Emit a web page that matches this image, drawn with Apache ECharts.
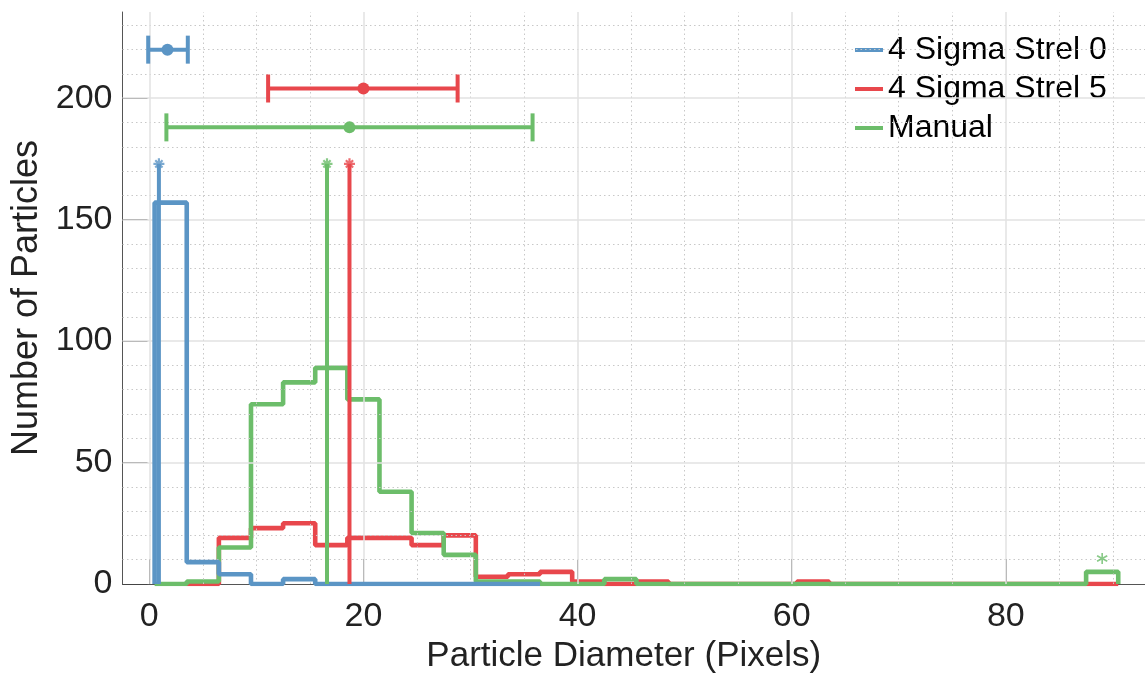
<!DOCTYPE html>
<html><head><meta charset="utf-8">
<script src="https://cdn.jsdelivr.net/npm/echarts@6/dist/echarts.min.js"></script>
<style>html,body{margin:0;padding:0;background:#fff}#c{width:1145px;height:680px}</style>
</head><body><div id="c"></div>
<script>
// ---- data ----
const seriesNames = ['4 Sigma Strel 0', '4 Sigma Strel 5', 'Manual'];
const colors = ['#5b95c5', '#e8474c', '#6cbd6a'];

const blueEdges = [0.5, 3.5, 6.5, 9.5, 12.5, 15.5, 18.5, 21.5, 24.5, 27.5, 30.5, 33.5, 36.5];
const blueCounts = [157, 9, 4, 0, 2, 0, 0, 0, 0, 0, 0, 0];

const redEdges = [3.5, 6.5, 9.5, 12.5, 15.5, 18.5, 21.5, 24.5, 27.5, 30.5, 33.5, 36.5, 39.5, 42.5, 45.5,
  48.5, 51.5, 54.5, 57.5, 60.5, 63.5, 66.5, 69.5, 72.5, 75.5, 78.5, 81.5, 84.5, 87.5, 90.5];
const redCounts = [0, 19, 23, 25, 16, 19, 19, 16, 20, 3, 4, 5, 1, 0, 1, 0, 0, 0, 0, 1,
  0, 0, 0, 0, 0, 0, 0, 0, 0];

const greenEdges = [0.5, 3.5, 6.5, 9.5, 12.5, 15.5, 18.5, 21.5, 24.5, 27.5, 30.5, 33.5, 36.5, 39.5, 42.5, 45.5,
  48.5, 51.5, 54.5, 57.5, 60.5, 63.5, 66.5, 69.5, 72.5, 75.5, 78.5, 81.5, 84.5, 87.5, 90.5];
const greenCounts = [0, 1, 15, 74, 83, 89, 76, 38, 21, 12, 1, 1, 0, 0, 2,
  0, 0, 0, 0, 0, 0, 0, 0, 0, 0, 0, 0, 0, 0, 5];

// median lines (x position, top)
const medianX = [0.9, 18.7, 16.6];
const medianTop = [173, 173, 173];

// error bars at top: low, mean, high, y level
const errLow = [-0.1, 11.1, 1.6];
const errMean = [1.7, 20.0, 18.7];
const errHigh = [3.6, 28.8, 35.8];
const errY = [220, 204, 188];

// outlier marker
const outlierPoint = [89, 10.5];

// ticks & grid
const xTicks = [0, 20, 40, 60, 80];
const yTicks = [0, 50, 100, 150, 200];
const xMinor = [5, 10, 15, 25, 30, 35, 45, 50, 55, 65, 70, 75, 85, 90];
const yMinor = [10, 20, 30, 40, 60, 70, 80, 90, 110, 120, 130, 140, 160, 170, 180, 190, 210, 220, 230];
const xMajorGrid = [0, 20, 40, 60, 80];
const yMajorGrid = [50, 100, 150, 200];

const FONT = '"Liberation Sans", Arial, Helvetica, sans-serif';
const TXT = '#222';

function stairs(edges, counts) {
  const pts = [[edges[0], 0]];
  for (let i = 0; i < counts.length; i++) pts.push([edges[i], counts[i]]);
  pts.push([edges[edges.length - 1], counts[counts.length - 1]]);
  pts.push([edges[edges.length - 1], 0]);
  return pts;
}

const asterisk4 = 'path://M4,0L6,0L6,10L4,10Z M0,4L10,4L10,6L0,6Z M1,2.4L2.4,1L9,7.6L7.6,9Z M7.6,1L9,2.4L2.4,9L1,7.6Z';
const asterisk3 = 'path://M4.3,0L5.7,0L5.7,10L4.3,10Z M0.32,6.9L8.98,1.9L9.68,3.1L1.02,8.1Z M1.02,1.9L9.68,6.9L8.98,8.1L0.32,3.1Z';

const hist = [[blueEdges, blueCounts], [redEdges, redCounts], [greenEdges, greenCounts]];

const series = [];

// grid lines via markLine
series.push({
  type: 'line', name: '_grid', data: [], z: 1, silent: true,
  markLine: {
    silent: true, symbol: ['none', 'none'], label: { show: false }, animation: false,
    data: [
      ...xMinor.map(v => ({ xAxis: v, lineStyle: { color: '#c8c8c8', type: [1.5, 3], width: 1 } })),
      ...yMinor.map(v => ({ yAxis: v, lineStyle: { color: '#c8c8c8', type: [1.5, 3], width: 1 } })),
      ...xMajorGrid.map(v => ({ xAxis: v, lineStyle: { color: '#e2e2e2', type: 'solid', width: 1.5 } })),
      ...yMajorGrid.map(v => ({ yAxis: v, lineStyle: { color: '#e2e2e2', type: 'solid', width: 1.5 } }))
    ]
  }
});

hist.forEach((h, i) => {
  series.push({
    type: 'line', name: seriesNames[i], step: 'end', data: stairs(h[0], h[1]),
    showSymbol: false, symbol: 'none', z: 3 + (i === 0 ? 2 : i === 1 ? 0 : 1),
    lineStyle: { color: colors[i], width: 4.6 }, itemStyle: { color: colors[i] },
    animation: false
  });
});

// medians
medianX.forEach((x, i) => {
  series.push({
    type: 'line', name: '_med' + i, data: [[x, 0], [x, medianTop[i]]], symbol: 'none', z: 6,
    lineStyle: { color: colors[i], width: 4 }, animation: false
  });
});
series.push({
  type: 'scatter', name: '_medstar', z: 7, symbol: asterisk4, symbolSize: 11,
  data: medianX.map((x, i) => ({ value: [x, medianTop[i]], itemStyle: { color: colors[i] } })),
  animation: false
});

// error bars
series.push({
  type: 'custom', name: '_err', z: 8, animation: false,
  data: errLow.map((l, i) => [l, errMean[i], errHigh[i], errY[i]]),
  encode: { x: [0, 1, 2], y: 3 },
  renderItem: function (params, api) {
    const y = api.value(3);
    const lo = api.coord([api.value(0), y]);
    const hi = api.coord([api.value(2), y]);
    const m = api.coord([api.value(1), y]);
    const c = colors[params.dataIndex];
    const st = { stroke: c, lineWidth: 4, fill: null };
    return {
      type: 'group', children: [
        { type: 'line', shape: { x1: lo[0], y1: lo[1], x2: hi[0], y2: hi[1] }, style: st },
        { type: 'line', shape: { x1: lo[0], y1: lo[1] - 14, x2: lo[0], y2: lo[1] + 14 }, style: st },
        { type: 'line', shape: { x1: hi[0], y1: hi[1] - 14, x2: hi[0], y2: hi[1] + 14 }, style: st },
        { type: 'circle', shape: { cx: m[0], cy: m[1], r: 6 }, style: { fill: c } }
      ]
    };
  }
});

// outlier star
series.push({
  type: 'scatter', name: '_out', z: 7, symbol: asterisk3, symbolSize: 11,
  data: [outlierPoint], itemStyle: { color: colors[2] }, animation: false
});

const chart = echarts.init(document.getElementById('c'));
chart.setOption({
  animation: false,
  backgroundColor: '#fff',
  textStyle: { fontFamily: FONT },
  grid: { left: 122.5, right: 0, top: 12, bottom: 96, containLabel: false },
  legend: {
    data: seriesNames, orient: 'vertical', left: 850, top: 29, itemGap: 7,
    icon: 'rect', itemWidth: 28, itemHeight: 4,
    textStyle: { fontSize: 32, color: '#000', fontFamily: FONT }
  },
  xAxis: {
    type: 'value', min: -2.5, max: 93,
    axisLine: { show: true, onZero: false, lineStyle: { color: '#555', width: 1 } },
    axisTick: { show: true, inside: true, length: 25, customValues: xTicks, lineStyle: { color: '#444', width: 1 } },
    axisLabel: { customValues: xTicks, fontSize: 34, color: TXT, margin: 16, fontFamily: FONT },
    splitLine: { show: false },
    name: 'Particle Diameter (Pixels)', nameLocation: 'middle', nameGap: 55,
    nameTextStyle: { fontSize: 35, color: TXT, fontFamily: FONT, padding: [0, 20, 0, 0] }
  },
  yAxis: {
    type: 'value', min: 0, max: 235.5,
    axisLine: { show: true, onZero: false, lineStyle: { color: '#555', width: 1 } },
    axisTick: { show: true, inside: true, length: 25, customValues: yTicks, lineStyle: { color: '#444', width: 1 } },
    axisLabel: { customValues: yTicks, fontSize: 34, color: TXT, margin: 10, fontFamily: FONT },
    splitLine: { show: false },
    name: 'Number of Particles', nameLocation: 'middle', nameGap: 77,
    nameTextStyle: { fontSize: 36, color: TXT, fontFamily: FONT }
  },
  series: series
});
</script>
</body></html>
